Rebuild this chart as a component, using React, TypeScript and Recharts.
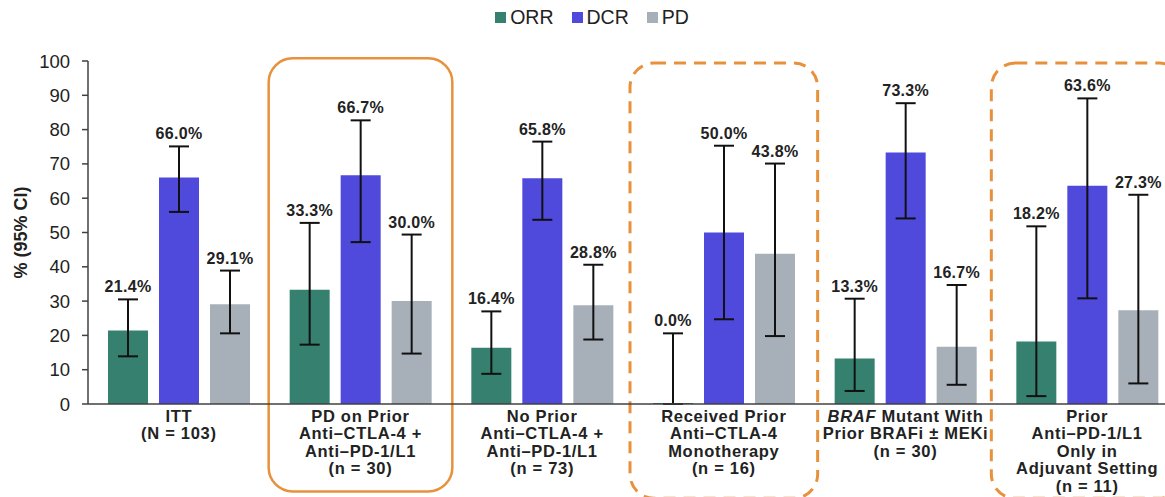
import { BarChart, Bar, XAxis, YAxis, ErrorBar, LabelList, Legend, ReferenceArea } from 'recharts'

const categories = [
  'ITT\n(N = 103)',
  'PD on Prior\nAnti–CTLA-4 +\nAnti–PD-1/L1\n(n = 30)',
  'No Prior\nAnti–CTLA-4 +\nAnti–PD-1/L1\n(n = 73)',
  'Received Prior\nAnti–CTLA-4\nMonotherapy\n(n = 16)',
  'BRAF Mutant With\nPrior BRAFi ± MEKi\n(n = 30)',
  'Prior\nAnti–PD-1/L1\nOnly in\nAdjuvant Setting\n(n = 11)',
]

const orr = [21.4, 33.3, 16.4, 0.0, 13.3, 18.2]
const orrLow = [13.9, 17.3, 8.8, 0.0, 3.8, 2.3]
const orrHigh = [30.5, 52.8, 27.0, 20.6, 30.7, 51.8]

const dcr = [66.0, 66.7, 65.8, 50.0, 73.3, 63.6]
const dcrLow = [56.0, 47.2, 53.7, 24.7, 54.1, 30.8]
const dcrHigh = [75.1, 82.7, 76.5, 75.3, 87.7, 89.1]

const pd = [29.1, 30.0, 28.8, 43.8, 16.7, 27.3]
const pdLow = [20.6, 14.7, 18.8, 19.8, 5.6, 6.0]
const pdHigh = [38.9, 49.4, 40.6, 70.1, 34.7, 61.0]

const yTicks = [0, 10, 20, 30, 40, 50, 60, 70, 80, 90, 100]

const COLORS = { ORR: '#35806f', DCR: '#4f49dc', PD: '#a7b0b9' }
const ORANGE = '#e8913c'
const FONT = '"Liberation Sans", Arial, sans-serif'
const INK = '#222'

const W = 1178
const H = 497
const LEGEND_H = 30
const MARGIN = { top: 31, right: 0, left: 0, bottom: 0 }
const X_AXIS_H = 93
const PLOT_H = H - MARGIN.top - LEGEND_H - X_AXIS_H
const PX = PLOT_H / 100

const data = categories.map((name, i) => ({
  name,
  ORR: orr[i],
  DCR: dcr[i],
  PD: pd[i],
  orrErr: [orr[i] - orrLow[i], orrHigh[i] - orr[i]],
  dcrErr: [dcr[i] - dcrLow[i], dcrHigh[i] - dcr[i]],
  pdErr: [pd[i] - pdLow[i], pdHigh[i] - pd[i]],
}))

function valueLabel(highs: number[]) {
  return (p: any) => {
    const zeroY = p.y + p.height
    const y = zeroY - highs[p.index] * PX - 7
    return (
      <text x={p.x + p.width / 2} y={y} textAnchor="middle" fontFamily={FONT} fontSize={16}
        fontWeight="bold" fill={INK} letterSpacing={0.3}>
        {`${Number(p.value).toFixed(1)}%`}
      </text>
    )
  }
}

function CategoryTick({ x, y, payload }: any) {
  const lines = String(payload.value).split('\n')
  return (
    <text x={x} y={y} textAnchor="middle" fontFamily={FONT} fontSize={16.5} fontWeight="bold" fill={INK}
      letterSpacing={0.7}>
      {lines.map((line, i) => {
        const dy = i === 0 ? 16 : 17.4
        if (line.startsWith('BRAF ')) {
          return (
            <tspan key={i} x={x} dy={dy}>
              <tspan fontStyle="italic">BRAF</tspan>
              {line.slice(4)}
            </tspan>
          )
        }
        return <tspan key={i} x={x} dy={dy}>{line}</tspan>
      })}
    </text>
  )
}

function LegendBox() {
  const items = ['ORR', 'DCR', 'PD'] as const
  return (
    <div style={{ display: 'flex', justifyContent: 'center', gap: 18, fontFamily: FONT, fontSize: 19.5, color: INK, paddingLeft: 6 }}>
      {items.map((k) => (
        <span key={k} style={{ display: 'flex', alignItems: 'center' }}>
          <span style={{ width: 11, height: 11, background: COLORS[k], marginRight: 4, display: 'inline-block' }} />
          {k}
        </span>
      ))}
    </div>
  )
}

function boxShape(dashed: boolean, pad: number) {
  return (p: any) => (
    <rect x={p.x - pad} y={p.y} width={p.width + pad * 2} height={p.height} rx={24} ry={24}
      fill="none" stroke={ORANGE} strokeWidth={dashed ? 3 : 2.5}
      strokeDasharray={dashed ? '12 8' : undefined} />
  )
}

export default function App() {
  return (
    <div style={{ position: 'absolute', left: 0, top: 0, width: 1165, height: 497, overflow: 'hidden', background: '#fff' }}>
      <BarChart width={W} height={H} data={data} margin={MARGIN} barGap={11} barSize={40}>
        <Legend verticalAlign="top" content={<LegendBox />} wrapperStyle={{ top: 6, height: LEGEND_H }} />
        <XAxis dataKey="name" height={X_AXIS_H} interval={0}
          tick={<CategoryTick />} tickLine={false} tickSize={0}
          axisLine={{ stroke: '#404040', strokeWidth: 1.5 }} />
        <YAxis width={88} domain={[0, 100]} ticks={yTicks} interval={0} tickSize={6} tickMargin={12}
          tick={{ fill: INK, fontSize: 18.5, fontFamily: FONT }}
          tickLine={{ stroke: '#404040', strokeWidth: 1.5 }} axisLine={{ stroke: '#404040', strokeWidth: 1.5 }}
          label={{
            content: (p: any) => {
              const vb = p.viewBox
              const cx = 21
              const cy = vb.y + vb.height / 2
              return (
                <text x={cx} y={cy} transform={`rotate(-90 ${cx} ${cy})`} textAnchor="middle"
                  dominantBaseline="central" fontFamily={FONT} fontSize={18} fontWeight="bold" fill={INK}>
                  % (95% CI)
                </text>
              )
            },
          }} />
        <ReferenceArea x1={categories[1]} x2={categories[1]} y1={-25.5} y2={100.8} ifOverflow="visible"
          shape={boxShape(false, 1)} />
        <ReferenceArea x1={categories[3]} x2={categories[3]} y1={-27.5} y2={99.4} ifOverflow="visible"
          shape={boxShape(true, 3)} />
        <ReferenceArea x1={categories[5]} x2={categories[5]} y1={-27.5} y2={99.4} ifOverflow="visible"
          shape={boxShape(true, 5)} />
        <Bar dataKey="ORR" fill={COLORS.ORR} minPointSize={1} isAnimationActive={false}>
          <ErrorBar dataKey="orrErr" width={10} strokeWidth={2} stroke="#111" />
          <LabelList dataKey="ORR" content={valueLabel(orrHigh)} />
        </Bar>
        <Bar dataKey="DCR" fill={COLORS.DCR} isAnimationActive={false}>
          <ErrorBar dataKey="dcrErr" width={10} strokeWidth={2} stroke="#111" />
          <LabelList dataKey="DCR" content={valueLabel(dcrHigh)} />
        </Bar>
        <Bar dataKey="PD" fill={COLORS.PD} isAnimationActive={false}>
          <ErrorBar dataKey="pdErr" width={10} strokeWidth={2} stroke="#111" />
          <LabelList dataKey="PD" content={valueLabel(pdHigh)} />
        </Bar>
      </BarChart>
    </div>
  )
}
